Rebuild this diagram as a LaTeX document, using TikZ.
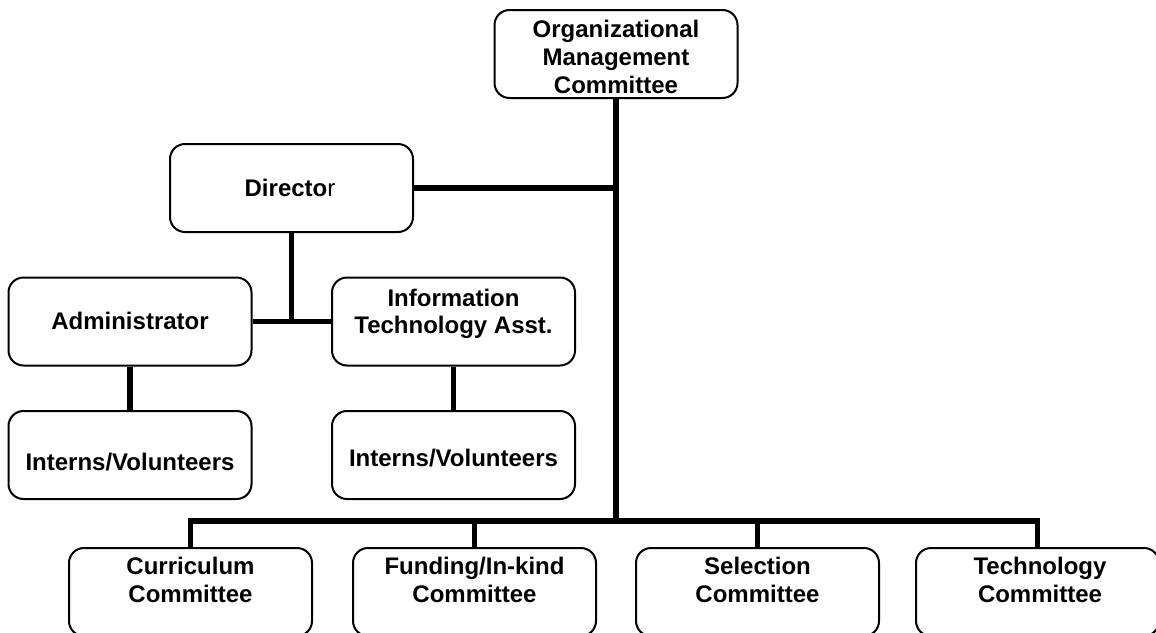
\documentclass[tikz,border=0pt]{standalone}
\usepackage{fontspec}
\setmainfont{Liberation Sans}
\begin{document}
\begin{tikzpicture}[x=0.5pt,y=-0.5pt,
  box/.style={draw, line width=1pt, rounded corners=7.5pt, minimum width=121.5pt, minimum height=44pt, inner sep=0pt},
  lbl/.style={font=\fontsize{12}{13.8}\selectfont\bfseries, align=center, inner sep=0pt},
  conn/.style={line width=2.6pt}]
\clip (0,0) rectangle (1156,632);
\useasboundingbox (0,0) rectangle (1156,632);
% boxes
\node[box] (omc) at (616,54) {};
\node[box] (dir) at (291.5,188) {};
\node[box] (adm) at (130,321.5) {};
\node[box] (ita) at (453.5,321.5) {};
\node[box] (int1) at (130,455) {};
\node[box] (int2) at (453.5,455) {};
\node[box] (cur) at (190.5,592) {};
\node[box] (fun) at (474.5,592) {};
\node[box] (sel) at (757.5,592) {};
\node[box] (tec) at (1037.5,592) {};
% labels
\node[lbl] (tomc) at (616,57) {Organizational\\Management\\Committee};
\node[lbl] (tdir) at (290,188) {Directo{\mdseries r}};
\node[lbl] (tadm) at (130,321) {Administrator};
\node[lbl] (tita) at (453.5,314) {Information\\Technology Asst.};
\node[lbl] (tint1) at (130,462) {Interns/Volunteers};
\node[lbl] (tint2) at (453.5,458) {Interns/Volunteers};
\node[lbl] (tcur) at (190.5,580) {Curriculum\\Committee};
\node[lbl] (tfun) at (474.5,580) {Funding/In-kind\\Committee};
\node[lbl] (tsel) at (757.5,580) {Selection\\Committee};
\node[lbl] (ttec) at (1040,580) {Technology\\Committee};
% connectors
\coordinate (bus) at (616,521);
\draw[conn] (omc.south) -- (bus);
\draw[conn] (dir.east) -- (dir.east -| omc.south);
\draw[conn] (cur.north) |- (bus -| tec.north) -- (tec.north);
\draw[conn] (fun.north) -- (fun.north |- bus);
\draw[conn] (sel.north) -- (sel.north |- bus);
\coordinate (dj) at (dir.south |- adm.east);
\draw[conn] (dir.south) -- (dj);
\draw[conn] (adm.east) -- (ita.west);
\draw[conn] (adm.south) -- (int1.north);
\draw[conn] (ita.south) -- (int2.north);
\end{tikzpicture}
\end{document}
